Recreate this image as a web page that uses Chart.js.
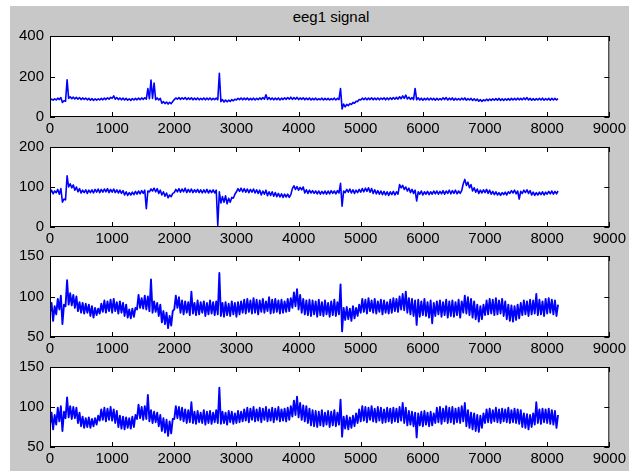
<!DOCTYPE html>
<html>
<head>
<meta charset="utf-8">
<script src="https://cdn.jsdelivr.net/npm/chart.js@4.4.1/dist/chart.umd.min.js"></script>
<style>
  body { margin: 0; background: #fff; width: 629px; height: 471px; overflow: hidden; }
  #fig { position: absolute; left: 10px; top: 6px; width: 619px; height: 465px; background: #c8c8c8; }
  #title { position: absolute; left: 231px; top: 8px; width: 200px; text-align: center;
           font: 15px "Liberation Sans", Arial, sans-serif; line-height: 18px; color: #000; }
  canvas { position: absolute; left: 0; }
</style>
</head>
<body>
<div id="fig"></div>
<div id="title">eeg1 signal</div>
<canvas id="c1" width="629" height="120" style="top:21px"></canvas>
<canvas id="c2" width="629" height="119" style="top:132px"></canvas>
<canvas id="c3" width="629" height="120" style="top:241px"></canvas>
<canvas id="c4" width="629" height="119" style="top:352px"></canvas>
<script>
// eeg1 signal — lower / upper envelope of each trace, one pair per 50 samples
const X_MIN = 0, X_MAX = 9000, X_STEP = 1000;
const Y_MIN = [0, 0, 50, 50];
const Y_MAX = [400, 200, 150, 150];
const Y_STEP = [200, 100, 50, 50];
const BIN = 50;

const lo1 = [82,83,84,86,72,78,92,90,89,88, 86,87,85,83,82,83,84,85,86,88,
  92,88,86,85,84,83,82,84,85,86, 87,88,90,92,86,84,68,66,64,66,
  86,88,87,88,86,87,85,86,85,86, 85,86,85,86,85,76,74,75,77,80,
  84,86,85,86,84,85,84,86,87,88, 87,86,85,86,84,86,87,88,87,88,
  86,87,85,86,84,85,84,85,84,85, 84,85,84,86,40,50,56,62,68,76,
  84,86,85,86,85,86,85,87,85,86, 87,88,88,90,92,89,87,86,85,84,
  83,85,84,85,83,84,85,86,84,85, 83,84,84,85,83,84,82,81,78,77,
  80,81,82,83,83,82,82,83,83,84, 84,85,85,86,84,83,83,84,84,83, 84,83,84,84];
const hi1 = [88,90,93,96,80,184,100,98,97,96, 94,93,92,91,90,90,92,93,95,97,
  104,96,94,93,92,90,91,92,93,94, 95,140,182,168,94,92,76,74,72,76,
  94,96,95,96,94,95,93,94,92,94, 93,94,92,93,216,86,84,83,86,88,
  92,94,93,94,92,93,92,94,96,110, 96,94,93,94,93,95,96,98,96,97,
  94,95,93,94,92,93,91,93,92,92, 91,93,92,141,64,62,66,72,78,86,
  93,94,93,95,93,94,93,95,94,95, 96,97,100,104,108,98,96,141,95,93,
  92,93,93,92,92,91,95,96,93,94, 92,91,93,94,91,92,90,89,86,85,
  88,89,90,91,92,90,90,91,92,92, 93,92,94,96,92,91,91,92,93,91, 92,92,92,91];

const lo2 = [84,83,86,82,62,68,100,98,92,88, 85,86,84,86,85,87,86,87,88,86,
  87,86,85,84,80,79,80,81,82,83, 84,46,88,90,88,84,80,77,73,76,
  86,88,87,88,86,87,86,87,86,85, 86,85,86,85,4,60,62,58,62,72,
  88,89,88,87,86,87,85,84,80,82, 78,79,77,76,75,74,75,74,96,94,
  92,93,85,84,85,84,83,82,83,82, 83,84,83,85,52,86,87,85,84,86,
  87,88,89,87,84,83,82,81,80,79, 81,80,82,98,94,90,86,84,65,82,
  80,82,81,82,83,82,83,82,84,83, 84,83,84,108,104,98,90,87,84,85,
  86,84,82,81,80,79,81,80,84,85, 83,70,84,86,84,80,79,80,81,80, 82,83,82,83];
const hi2 = [92,90,94,96,70,128,108,105,100,96, 92,93,92,93,94,95,94,95,96,94,
  95,93,92,91,88,86,87,89,90,91, 92,90,95,97,96,92,88,85,80,84,
  94,96,95,97,94,95,93,94,93,93, 94,92,93,92,88,76,78,72,74,82,
  96,97,96,95,94,95,93,92,90,92, 88,88,86,84,83,82,82,81,103,101,
  99,100,93,92,91,90,90,89,90,90, 91,90,91,109,90,94,95,93,92,94,
  96,97,98,96,93,91,90,89,88,88, 89,88,106,104,100,97,94,92,88,90,
  88,89,88,90,90,89,91,90,92,91, 92,90,91,119,112,106,98,95,92,93,
  94,92,89,88,86,86,87,88,91,92, 90,89,92,93,91,87,86,87,88,87, 89,90,89,90];

const lo3 = [80,70,78,84,66,88,90,89,86,82, 80,79,80,76,74,77,79,81,80,82,
  80,82,79,80,76,74,73,75,84,86, 85,84,82,80,81,76,68,66,61,64,
  84,86,80,78,80,77,79,77,78,80, 76,78,79,77,78,76,75,77,76,78,
  75,78,80,79,81,79,80,78,81,80, 82,79,80,81,79,80,81,82,86,88,
  84,80,78,77,76,78,75,77,76,78, 75,77,76,78,57,71,72,70,73,76,
  80,81,79,82,80,79,81,78,80,79, 80,82,81,84,83,80,78,76,65,75,
  77,76,74,67,76,78,75,77,74,76, 75,77,74,80,79,77,74,72,69,72,
  77,78,79,77,78,79,76,72,70,69, 71,73,77,78,76,78,79,77,78,76, 79,80,78,76];
const hi3 = [92,88,97,101,90,120,104,102,100,93, 92,91,90,88,86,85,91,95,94,96,
  97,93,94,92,90,84,85,86,102,98, 101,100,121,94,92,90,82,80,76,82,
  101,99,95,94,93,106,92,95,93,94, 92,95,93,94,129,92,93,91,94,92,
  93,94,96,97,95,98,96,95,97,94, 99,96,97,95,96,94,97,98,105,109,
  102,97,95,96,95,94,96,93,95,92, 94,96,93,115,86,87,85,88,86,90,
  97,96,98,95,97,94,96,95,93,96, 98,97,100,103,106,98,97,95,96,94,
  97,93,95,92,94,95,93,96,94,95, 93,96,94,101,99,97,94,90,88,90,
  95,97,96,98,95,97,94,90,89,88, 90,92,95,94,96,95,103,96,94,97, 98,96,95,90];

const lo4 = [77,72,78,82,70,86,87,85,86,80, 76,74,75,74,76,78,83,84,82,84,
  83,80,75,73,72,74,73,75,85,86, 84,85,82,80,81,76,70,68,64,67,
  85,86,84,82,80,81,80,79,81,80, 78,80,79,81,80,79,80,78,81,79,
  80,81,82,83,81,84,82,83,81,84, 82,83,81,84,82,83,82,84,88,90,
  87,84,82,80,77,76,75,77,76,78, 75,77,76,78,63,73,72,74,76,80,
  82,83,81,84,82,81,83,80,81,82, 80,82,81,83,80,77,78,76,62,77,
  76,78,76,77,80,81,79,82,80,81, 79,81,80,82,76,74,72,70,69,74,
  80,81,80,82,81,80,82,81,80,81, 80,79,75,74,72,75,78,80,79,81, 80,79,78,74];
const hi4 = [93,90,99,101,94,112,101,100,99,93, 88,86,87,85,86,89,97,99,98,100,
  97,95,89,88,87,86,88,90,103,100, 101,115,96,94,93,90,86,84,82,85,
  101,100,99,97,96,106,94,95,93,96, 94,95,93,96,124,94,93,95,94,92,
  95,94,97,99,98,100,97,99,98,100, 97,99,98,100,97,98,99,101,108,113,
  105,102,101,98,96,95,94,96,93,95, 94,96,93,109,88,89,87,89,92,97,
  101,100,99,101,98,100,99,97,99,98, 99,98,100,105,99,95,94,93,92,94,
  95,93,94,92,99,100,98,101,99,100, 98,99,101,105,96,93,92,90,89,92,
  97,98,96,99,97,98,97,99,96,98, 97,96,92,91,90,92,106,97,98,97, 98,96,95,90];

const LOWS = [lo1, lo2, lo3, lo4];
const HIGHS = [hi1, hi2, hi3, hi4];
const LINE_W = [1.6, 1.6, 1.9, 1.9];

const TICK_LEN = 5;
const FONT = { family: '"Liberation Sans", Arial, sans-serif', size: 15 };

// low point at the start of each bin, high point half a bin later
function buildTrace(lo, hi) {
  const pts = [];
  for (let i = 0; i < lo.length; i++) {
    pts.push({ x: i * BIN, y: lo[i] });
    pts.push({ x: i * BIN + BIN / 2, y: hi[i] });
  }
  return pts;
}

// white axes, black box, inward ticks on all four sides (matlab look)
const matlabAxes = {
  id: 'matlabAxes',
  beforeDraw(chart) {
    const a = chart.chartArea, ctx = chart.ctx;
    ctx.save();
    ctx.fillStyle = '#fff';
    ctx.fillRect(a.left, a.top, a.right - a.left, a.bottom - a.top);
    ctx.restore();
  },
  afterDatasetsDraw(chart) {
    const a = chart.chartArea, ctx = chart.ctx;
    const xs = chart.scales.x, ys = chart.scales.y;
    ctx.save();
    ctx.strokeStyle = '#000';
    ctx.lineWidth = 1;
    ctx.beginPath();
    xs.ticks.forEach(t => {
      const px = Math.round(xs.getPixelForValue(t.value)) + 0.5;
      ctx.moveTo(px, a.bottom); ctx.lineTo(px, a.bottom - TICK_LEN);
      ctx.moveTo(px, a.top); ctx.lineTo(px, a.top + TICK_LEN);
    });
    ys.ticks.forEach(t => {
      const py = Math.round(ys.getPixelForValue(t.value)) + 0.5;
      ctx.moveTo(a.left, py); ctx.lineTo(a.left + TICK_LEN, py);
      ctx.moveTo(a.right, py); ctx.lineTo(a.right - TICK_LEN, py);
    });
    ctx.stroke();
    ctx.strokeRect(a.left + 0.5, a.top + 0.5, a.right - a.left - 1, a.bottom - a.top - 1);
    ctx.restore();
  }
};

function renderPanel(canvasId, k) {
  const ctx = document.getElementById(canvasId);
  return new Chart(ctx, {
    type: 'line',
    data: {
      datasets: [{
        data: buildTrace(LOWS[k], HIGHS[k]),
        borderColor: '#0000ff', borderWidth: LINE_W[k], borderJoinStyle: 'round',
        pointRadius: 0, tension: 0, fill: false
      }]
    },
    options: {
      responsive: false, animation: false, events: [],
      layout: { padding: { top: 12, right: 17, bottom: 0, left: 0 } },
      plugins: { legend: { display: false }, tooltip: { enabled: false } },
      scales: {
        x: {
          type: 'linear', min: X_MIN, max: X_MAX,
          grid: { display: false, drawTicks: false }, border: { display: false },
          ticks: { stepSize: X_STEP, autoSkip: false, maxRotation: 0, padding: 3, color: '#000', font: FONT,
                   callback: v => String(v) },
          afterFit: s => { s.height = 24; }
        },
        y: {
          min: Y_MIN[k], max: Y_MAX[k],
          grid: { display: false, drawTicks: false }, border: { display: false },
          ticks: { stepSize: Y_STEP[k], autoSkip: false, padding: 6, color: '#000', font: FONT,
                   callback: v => String(v) },
          afterFit: s => { s.width = 50; }
        }
      }
    },
    plugins: [matlabAxes]
  });
}

['c1', 'c2', 'c3', 'c4'].forEach((id, k) => renderPanel(id, k));
</script>
</body>
</html>
